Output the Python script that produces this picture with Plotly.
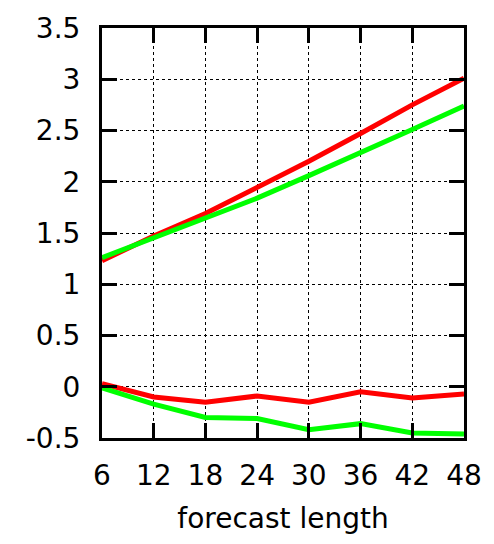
import plotly.graph_objects as go

# forecast lead times (hours)
lead_hours = [6, 12, 18, 24, 30, 36, 42, 48]

# upper pair of curves
red_upper = [1.23, 1.47, 1.69, 1.94, 2.20, 2.47, 2.75, 3.01]
green_upper = [1.26, 1.45, 1.64, 1.84, 2.06, 2.28, 2.51, 2.74]

# lower pair of curves
red_lower = [0.03, -0.10, -0.15, -0.09, -0.15, -0.05, -0.11, -0.07]
green_lower = [-0.01, -0.17, -0.30, -0.31, -0.42, -0.36, -0.45, -0.46]

y_ticks = [-0.5, 0, 0.5, 1, 1.5, 2, 2.5, 3, 3.5]
y_tick_text = ["-0.5", "0", "0.5", "1", "1.5", "2", "2.5", "3", "3.5"]

RED = "#ff0000"
GREEN = "#00ff00"
FONT = "DejaVu Sans, Liberation Sans, sans-serif"
FSIZE = 28

fig = go.Figure()
for ys, col in [(red_upper, RED), (green_upper, GREEN), (red_lower, RED), (green_lower, GREEN)]:
    fig.add_trace(go.Scatter(x=lead_hours, y=ys, mode="lines",
                             line=dict(color=col, width=5), showlegend=False))

axis_common = dict(
    showline=True, linecolor="black", linewidth=3, mirror="allticks",
    ticks="inside", ticklen=15, tickwidth=3, tickcolor="black",
    showgrid=True, gridcolor="black", gridwidth=1, griddash="3px,3px",
    zeroline=False,
    tickfont=dict(family=FONT, size=FSIZE, color="black"),
)

fig.update_xaxes(range=[6, 48], tickvals=lead_hours,
                 ticktext=[str(h) for h in lead_hours],
                 title=dict(text="forecast length", font=dict(family=FONT, size=FSIZE, color="black"),
                            standoff=18),
                 ticklabelstandoff=10,
                 **axis_common)
fig.update_yaxes(range=[-0.5, 3.5], tickvals=y_ticks, ticktext=y_tick_text,
                 ticklabelstandoff=13,
                 **axis_common)

fig.update_layout(
    width=494, height=544,
    margin=dict(l=102, r=28, t=22, b=106),
    paper_bgcolor="white", plot_bgcolor="white",
    font=dict(family=FONT),
)

fig.write_html("out.html")
